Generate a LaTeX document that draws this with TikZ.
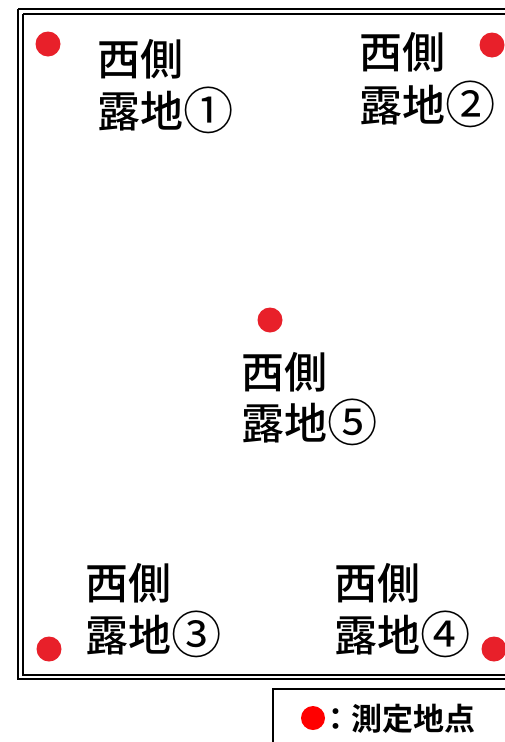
\documentclass[tikz,border=0pt]{standalone}
\usepackage{fontspec}
\usepackage{graphicx}
\newfontfamily\jpfont{Noto Sans CJK JP Medium}
\newfontfamily\jpreg{Noto Sans CJK JP}
\newfontfamily\jpbold{Noto Sans CJK JP Bold}
\newcommand{\cnum}[1]{\raisebox{-2.8pt}{\scalebox{1.17}{\jpreg #1}}}
\definecolor{ptred}{RGB}{232,32,42}
\definecolor{legred}{RGB}{255,0,0}
\begin{document}
\begin{tikzpicture}[x=1pt,y=-1pt,
  lbl/.style={anchor=base west,inner sep=0pt,font=\jpfont\fontsize{43}{52}\selectfont},
  pt/.style={circle,fill=ptred,draw=none,minimum size=25pt,inner sep=0pt},
  legtext/.style={anchor=west,inner sep=0pt,font=\jpbold\fontsize{31}{34}\selectfont}]
\useasboundingbox (0,0) rectangle (505,742);
\fill[white] (0,0) rectangle (505,742);
\clip (0,0) rectangle (505,742);
% double frame
\draw[line width=2.6pt] (18,9) -- (520,9);
\draw[line width=2.6pt] (18,9) -- (18,679) -- (520,679);
\draw[line width=1.3pt] (23,14) -- (520,14);
\draw[line width=1.3pt] (23,14) -- (23,675) -- (520,675);
% measurement points
\node[pt] (p1) at (48,44) {};
\node[pt] (p2) at (492,45) {};
\node[pt] (p3) at (49,649) {};
\node[pt] (p4) at (494,649) {};
\node[pt] (p5) at (270,320) {};
% labels
\node[lbl] (s1) at (97,75) {西側};
\node[lbl] (r1) at (97,127) {露地\cnum{①}};
\node[lbl] (s2) at (359,68) {西側};
\node[lbl] (r2) at (359,121) {露地\cnum{②}};
\node[lbl] (s3) at (85,599) {西側};
\node[lbl] (r3) at (85,651) {露地\cnum{③}};
\node[lbl] (s4) at (334,599) {西側};
\node[lbl] (r4) at (334,651) {露地\cnum{④}};
\node[lbl] (s5) at (241,388) {西側};
\node[lbl] (r5) at (241,439) {露地\cnum{⑤}};
% legend
\draw[line width=1.5pt] (273,760) -- (273,689) -- (520,689);
\node[circle,fill=legred,draw=none,minimum size=24pt,inner sep=0pt] (ld) at (313,718) {};
\node[legtext] (lt) at (320,719) {：測定地点};
\end{tikzpicture}
\end{document}
